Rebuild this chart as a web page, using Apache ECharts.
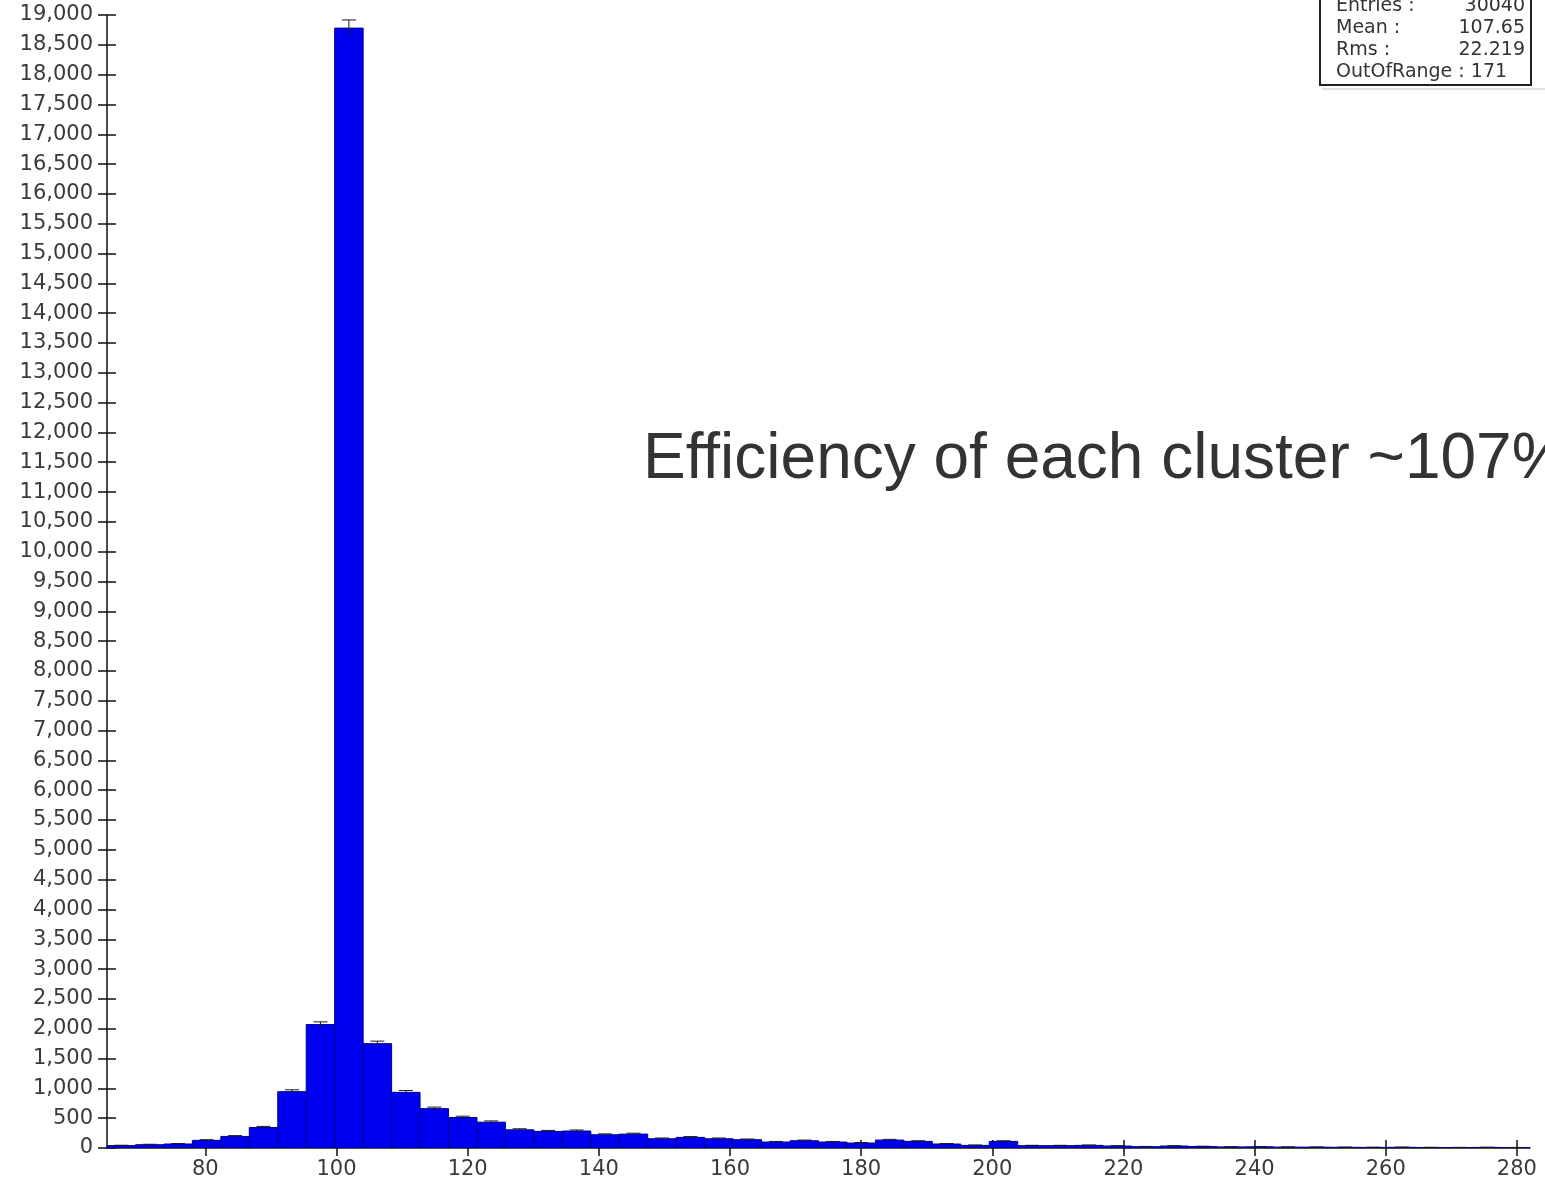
<!DOCTYPE html>
<html>
<head>
<meta charset="utf-8">
<script src="https://cdn.jsdelivr.net/npm/echarts@6/dist/echarts.min.js"></script>
<style>
html, body { margin: 0; padding: 0; background: #fff; }
#chart { width: 1545px; height: 1181px; }
</style>
</head>
<body>
<div id="chart"></div>
<script>
// histogram definition
const binStart = 65
const binWidth = 4.34
const counts = [
  40, 55, 67, 128, 194, 344, 945, 2070, 18780, 1750,
  933, 660, 511, 433, 305, 278, 285, 222, 233, 155,
  178, 155, 139, 100, 122, 100, 83, 133, 111, 67,
  44, 111, 39, 39, 44, 33, 22, 33, 25, 18,
  20, 15, 14, 12, 10, 12, 9, 8, 10, 7,
]
const xTicks = [80, 100, 120, 140, 160, 180, 200, 220, 240, 260, 280]
const statNames = ['Entries :', 'Mean :', 'Rms :']
const statValues = ['30040', '107.65', '22.219']
const outOfRangeText = 'OutOfRange : 171'
const note = 'Efficiency of each cluster ~107%'

const labelFont = 'DejaVu Sans'
const axisColor = '#111'

const bins = counts.map((c, i) => [binStart + i * binWidth, binStart + (i + 1) * binWidth, c])

const chart = echarts.init(document.getElementById('chart'))

const baseX = {
  type: 'value',
  min: 65,
  max: 282,
  splitLine: { show: false },
  axisLine: { show: true, lineStyle: { color: axisColor, width: 1.5 } },
}
const baseY = {
  type: 'value',
  min: 0,
  max: 19000,
  interval: 500,
  splitLine: { show: false },
  axisLine: { show: true, lineStyle: { color: axisColor, width: 1.5 } },
}

const statFont = '19px "DejaVu Sans"'
const statsGraphics = [
  {
    type: 'rect',
    shape: { x: 1320, y: -10, width: 211, height: 95 },
    style: { fill: '#fff', stroke: '#222', lineWidth: 2 },
    z: 10,
  },
  {
    type: 'line',
    shape: { x1: 1322, y1: 89, x2: 1545, y2: 89 },
    style: { stroke: '#e2e2e2', lineWidth: 2 },
    z: 10,
  },
]
statNames.forEach((name, i) => {
  statsGraphics.push({
    type: 'text',
    x: 1336, y: 6 + i * 22,
    style: { text: name, font: statFont, fill: '#333', textVerticalAlign: 'middle' },
    z: 11,
  })
  statsGraphics.push({
    type: 'text',
    x: 1525, y: 6 + i * 22,
    style: { text: statValues[i], font: statFont, fill: '#333', textAlign: 'right', textVerticalAlign: 'middle' },
    z: 11,
  })
})
statsGraphics.push({
  type: 'text',
  x: 1336, y: 72,
  style: { text: outOfRangeText, font: statFont, fill: '#333', textVerticalAlign: 'middle' },
  z: 11,
})

chart.setOption({
  animation: false,
  backgroundColor: '#fff',
  grid: { left: 107, right: 15, top: 15, bottom: 33, containLabel: false },
  xAxis: [
    {
      ...baseX,
      axisTick: { show: true, inside: false, length: 8, customValues: xTicks, lineStyle: { color: axisColor, width: 1.5 } },
      axisLabel: { customValues: xTicks, margin: 11, color: '#3a3a3a', fontSize: 21, fontFamily: labelFont },
    },
    {
      ...baseX,
      position: 'bottom',
      axisLine: { show: false },
      axisTick: { show: true, inside: true, length: 8, customValues: xTicks, lineStyle: { color: axisColor, width: 1.5 } },
      axisLabel: { show: false },
    },
  ],
  yAxis: [
    {
      ...baseY,
      axisTick: { show: true, inside: false, length: 9, lineStyle: { color: axisColor, width: 1.5 } },
      axisLabel: {
        margin: 14,
        color: '#3a3a3a',
        fontSize: 21,
        fontFamily: labelFont,
        formatter: (v) => v.toLocaleString('en-US'),
      },
    },
    {
      ...baseY,
      position: 'left',
      axisLine: { show: false },
      axisTick: { show: true, inside: true, length: 9, lineStyle: { color: axisColor, width: 1.5 } },
      axisLabel: { show: false },
    },
  ],
  series: [
    {
      type: 'custom',
      xAxisIndex: 0,
      yAxisIndex: 0,
      data: bins,
      clip: true,
      renderItem: (params, api) => {
        const x0 = api.value(0)
        const x1 = api.value(1)
        const v = api.value(2)
        const pTop = api.coord([x0, v])
        const pBot = api.coord([x1, 0])
        const err = Math.sqrt(v)
        const mid = (x0 + x1) / 2
        const eTop = api.coord([mid, v + err])
        const eBot = api.coord([mid, Math.max(v - err, 0)])
        return {
          type: 'group',
          children: [
            {
              type: 'rect',
              shape: { x: pTop[0], y: pTop[1], width: pBot[0] - pTop[0], height: pBot[1] - pTop[1] },
              style: { fill: '#0000f0', stroke: '#00008a', lineWidth: 1 },
            },
            {
              type: 'line',
              shape: { x1: eTop[0], y1: eTop[1], x2: eBot[0], y2: eBot[1] },
              style: { stroke: '#1a1a1a', lineWidth: 1 },
            },
            {
              type: 'line',
              shape: { x1: eTop[0] - 7, y1: eTop[1], x2: eTop[0] + 7, y2: eTop[1] },
              style: { stroke: '#1a1a1a', lineWidth: 1 },
            },
          ],
        }
      },
    },
  ],
  graphic: [
    {
      type: 'text',
      x: 643, y: 460,
      style: { text: note, font: '64px "Liberation Sans"', fill: '#333', textVerticalAlign: 'middle' },
      z: 5,
    },
    ...statsGraphics,
  ],
})
</script>
</body>
</html>
